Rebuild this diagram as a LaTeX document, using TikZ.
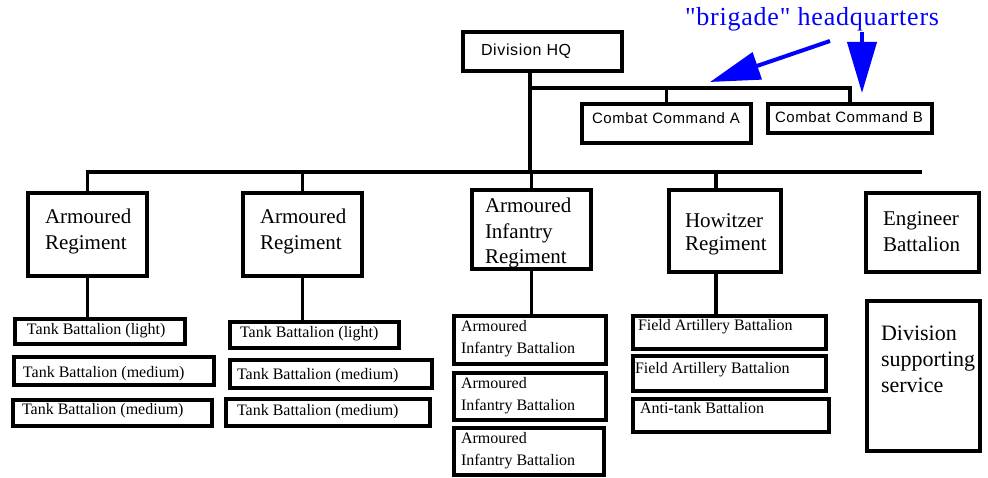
\documentclass[tikz,border=0pt]{standalone}
\usepackage{fontspec}
\setmainfont{Liberation Serif}
\newfontfamily\labelsans[LetterSpace=4]{Liberation Sans}
\newfontfamily\notefont[LetterSpace=3]{Liberation Serif}
\usetikzlibrary{arrows.meta,calc}

% a unit box given by its top-left and bottom-right corners
\newcommand\unitbox[5]{\node[unit, minimum width={#4pt-#2pt}, minimum height={#5pt-#3pt}] (#1) at (#2,#3) {};}

\begin{document}
\begin{tikzpicture}[x=1pt,y=-1pt,
  unit/.style={draw=black, line width=3.1pt, inner sep=0pt, outer sep=0pt, anchor=north west},
  link/.style={draw=black, line width=3.1pt},
  lbl/.style={inner sep=0pt, outer sep=0pt},
  hqtext/.style={lbl, font=\labelsans\fontsize{16}{19}\selectfont},
  cctext/.style={lbl, font=\labelsans\fontsize{15}{18}\selectfont},
  regtext/.style={lbl, align=left, font=\fontsize{21}{26}\selectfont},
  battext/.style={lbl, align=left, font=\fontsize{16}{22}\selectfont},
  pointer/.style={draw=blue, line width=4pt},
]
\fill[white] (0,0) rectangle (988,478);
\useasboundingbox (0,0) rectangle (988,478);

% headquarters
\unitbox{hq}{463}{32}{622}{71}
\unitbox{cca}{582}{104}{751}{143}
\unitbox{ccb}{768}{104}{932}{133}
\node[hqtext, anchor=mid west] (hq-t) at (481,53) {Division HQ};
\node[cctext, anchor=mid west] (cca-t) at (592,121) {Combat Command A};
\node[cctext, anchor=mid west] (ccb-t) at (775,120) {Combat Command B};

% regiments
\unitbox{ar1}{28}{193}{147}{276}
\unitbox{ar2}{243}{193}{362}{276}
\unitbox{air}{472}{190}{591}{269}
\unitbox{hw}{669}{190}{781}{272}
\unitbox{eng}{866}{193}{979}{272}
\node[regtext, anchor=north west] (ar1-t) at (45,209) {Armoured\\Regiment};
\node[regtext, anchor=north west] (ar2-t) at (260,209) {Armoured\\Regiment};
\node[regtext, anchor=north west, font=\fontsize{21}{25.5}\selectfont] (air-t) at (485,198) {Armoured\\Infantry\\Regiment};
\node[regtext, anchor=north west, font=\fontsize{21}{23}\selectfont] (hw-t) at (685,214) {Howitzer\\Regiment};
\node[regtext, anchor=north west] (eng-t) at (883,212) {Engineer\\Battalion};

% battalions
\unitbox{tl1}{15}{319}{185}{344}
\unitbox{tm1}{14}{357}{214}{385}
\unitbox{tm2}{13}{400}{212}{426}
\unitbox{tl2}{230}{322}{399}{348}
\unitbox{tm3}{230}{360}{432}{388}
\unitbox{tm4}{226}{399}{430}{426}
\node[battext, anchor=mid west] (tl1-t) at (27,332) {Tank Battalion (light)};
\node[battext, anchor=mid west] (tm1-t) at (23,375) {Tank Battalion (medium)};
\node[battext, anchor=mid west] (tm2-t) at (22,412) {Tank Battalion (medium)};
\node[battext, anchor=mid west] (tl2-t) at (240,335) {Tank Battalion (light)};
\node[battext, anchor=mid west] (tm3-t) at (237,377) {Tank Battalion (medium)};
\node[battext, anchor=mid west] (tm4-t) at (237,413) {Tank Battalion (medium)};

\unitbox{aib1}{454}{316}{606}{364}
\unitbox{aib2}{454}{373}{606}{420}
\unitbox{aib3}{454}{428}{604}{475}
\node[battext, anchor=north west] (aib1-t) at (461,320) {Armoured\\Infantry Battalion};
\node[battext, anchor=north west] (aib2-t) at (461,377) {Armoured\\Infantry Battalion};
\node[battext, anchor=north west] (aib3-t) at (461,432) {Armoured\\Infantry Battalion};

\unitbox{fab1}{633}{316}{826}{349}
\unitbox{fab2}{633}{356}{826}{391}
\unitbox{atb}{633}{399}{829}{432}
\node[battext, anchor=mid west] (fab1-t) at (638,328) {Field Artillery Battalion};
\node[battext, anchor=mid west] (fab2-t) at (635,371) {Field Artillery Battalion};
\node[battext, anchor=mid west] (atb-t) at (640,411) {Anti-tank Battalion};

\unitbox{dss}{867}{301}{980}{451}
\node[regtext, anchor=north west, font=\fontsize{22}{26}\selectfont] (dss-t) at (881,326) {Division\\supporting\\service};

% command lines
\coordinate (trunk) at (530,172);
\coordinate (barend) at (922,172);
\coordinate (ccj) at (530,88);
\coordinate (hwx) at (716,172);
\draw[link] (hq.south -| trunk) -- (trunk);
\draw[link] (ccj) -| (ccb.north);
\draw[link] (ccj -| cca.north) -- (cca.north);
\draw[link] (ar1.north) |- (barend);
\draw[link] (ar2.north) -- (ar2.north |- trunk);
\draw[link] (air.north) -- (air.north |- trunk);
\draw[link] (hwx) -- (hwx |- hw.north);
\draw[link] (ar1.south) -- (ar1.south |- tl1.north);
\draw[link] (ar2.south) -- (ar2.south |- tl2.north);
\draw[link] (air.south) -- (air.south |- aib1.north);
\draw[link] (hw.south -| hwx) -- (hwx |- fab1.north);

% annotation
\node[lbl, anchor=base west, text=blue, font=\notefont\fontsize{26}{30}\selectfont] (note) at (685,26) {"brigade" headquarters};
\coordinate (srcA) at (830,41);
\coordinate (tipA) at (710,82);
\coordinate (tipB) at (862,93);
\draw[pointer, -{Triangle[length=50pt,width=28pt]}] (srcA) -- (tipA);
\draw[pointer, -{Triangle[length=51pt,width=29pt]}] (note.south -| tipB) -- (tipB);
\end{tikzpicture}
\end{document}
